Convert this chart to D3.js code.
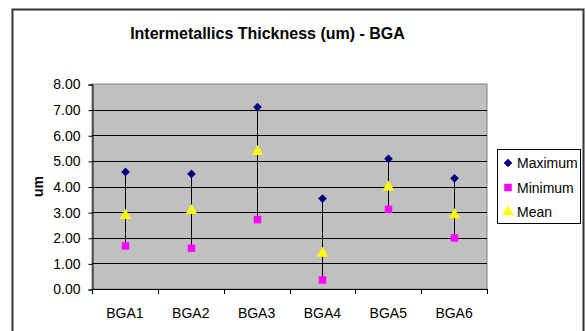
<!DOCTYPE html>
<html>
<head>
<meta charset="utf-8">
<script src="https://cdn.jsdelivr.net/npm/d3@7"></script>
<style>
  body { margin: 0; background: #fff; }
  text { font-family: "Liberation Sans", Arial, sans-serif; fill: #000; }
</style>
</head>
<body>
<div id="chart"></div>
<script>
// Size constants
var totWidth = 586,
    totHeight = 331;
var plot = {left: 92, top: 84, right: 487, bottom: 289};

// Data
var categories = ["BGA1", "BGA2", "BGA3", "BGA4", "BGA5", "BGA6"];
var maximum = [4.57, 4.49, 7.10, 3.53, 5.08, 4.32];
var minimum = [1.68, 1.59, 2.71, 0.35, 3.11, 1.99];
var mean    = [2.86, 3.06, 5.36, 1.39, 3.97, 2.89];
var yTicks  = [0, 1, 2, 3, 4, 5, 6, 7, 8];
var seriesNames = ["Maximum", "Minimum", "Mean"];

var svg = d3.select("#chart")
  .append("svg")
    .attr("width", totWidth)
    .attr("height", totHeight);

// chart border
svg.append("rect")
  .attr("x", 12.5).attr("y", 9.5)
  .attr("width", 571).attr("height", 340)
  .attr("fill", "#fff")
  .attr("stroke", "#333").attr("stroke-width", 2);

// Title
svg.append("text")
  .attr("x", 267.5).attr("y", 39)
  .attr("text-anchor", "middle")
  .attr("font-size", "16px")
  .attr("font-weight", "bold")
  .text("Intermetallics Thickness (um) - BGA");

// Scales
var x = d3.scaleBand()
  .domain(categories)
  .range([plot.left, plot.right]);
var y = d3.scaleLinear()
  .domain([0, 8])
  .range([plot.bottom, plot.top]);

// plot background
svg.append("rect")
  .attr("x", plot.left).attr("y", plot.top)
  .attr("width", plot.right - plot.left)
  .attr("height", plot.bottom - plot.top)
  .attr("fill", "#c0c0c0")
  .attr("stroke", "#808080").attr("stroke-width", 1);

// gridlines
svg.append("g")
  .selectAll("line")
  .data(yTicks.slice(1, -1))
  .enter()
  .append("line")
    .attr("x1", plot.left).attr("x2", plot.right)
    .attr("y1", function(d) { return Math.round(y(d)) + 0.5; })
    .attr("y2", function(d) { return Math.round(y(d)) + 0.5; })
    .attr("stroke", "#000").attr("stroke-width", 1);

// Y axis
var yAxis = svg.append("g")
  .attr("transform", "translate(" + (plot.left + 0.5) + ",0.5)")
  .call(d3.axisLeft(y)
    .tickValues(yTicks)
    .tickSize(4)
    .tickPadding(8)
    .tickFormat(d3.format(".2f")));
yAxis.selectAll("text").attr("font-size", "14px").attr("font-family", null);
yAxis.selectAll("line, path").attr("stroke", "#000");

// X axis: ticks at category boundaries
var bounds = categories.map(function(c) { return x(c); }).concat([plot.right]);
var xAxis = svg.append("g");
xAxis.append("line")
  .attr("x1", plot.left).attr("x2", plot.right)
  .attr("y1", plot.bottom + 0.5).attr("y2", plot.bottom + 0.5)
  .attr("stroke", "#000");
xAxis.selectAll(".xtick")
  .data(bounds)
  .enter()
  .append("line")
    .attr("class", "xtick")
    .attr("x1", function(d) { return Math.round(d) + 0.5; })
    .attr("x2", function(d) { return Math.round(d) + 0.5; })
    .attr("y1", plot.bottom).attr("y2", plot.bottom + 5)
    .attr("stroke", "#000");
xAxis.selectAll(".xlabel")
  .data(categories)
  .enter()
  .append("text")
    .attr("class", "xlabel")
    .attr("x", function(d) { return x(d) + x.bandwidth() / 2; })
    .attr("y", 318)
    .attr("text-anchor", "middle")
    .attr("font-size", "14px")
    .text(function(d) { return d; });

// Y axis label
svg.append("text")
  .attr("transform", "translate(43," + ((plot.top + plot.bottom) / 2) + ") rotate(-90)")
  .attr("text-anchor", "middle")
  .attr("font-size", "14px")
  .attr("font-weight", "bold")
  .text("um");

// high-low lines
var cx = function(i) { return Math.round(x(categories[i]) + x.bandwidth() / 2) + 0.5; };
svg.append("g")
  .selectAll("line")
  .data(categories)
  .enter()
  .append("line")
    .attr("x1", function(d, i) { return cx(i); })
    .attr("x2", function(d, i) { return cx(i); })
    .attr("y1", function(d, i) { return y(maximum[i]); })
    .attr("y2", function(d, i) { return y(minimum[i]); })
    .attr("stroke", "#000").attr("stroke-width", 1);

// marker shapes
var markers = {
  Maximum: {path: d3.symbol().type(d3.symbolDiamond2).size(48)(), color: "#000080", values: maximum},
  Minimum: {path: d3.symbol().type(d3.symbolSquare).size(56)(), color: "#ff00ff", values: minimum},
  Mean:    {path: d3.symbol().type(d3.symbolTriangle).size(58)(), color: "#ffff00", values: mean}
};

seriesNames.forEach(function(name) {
  var m = markers[name];
  svg.append("g")
    .selectAll("path")
    .data(m.values)
    .enter()
    .append("path")
      .attr("d", m.path)
      .attr("transform", function(d, i) { return "translate(" + cx(i) + "," + y(d) + ")"; })
      .attr("fill", m.color);
});

// Legend
var legend = svg.append("g");
legend.append("rect")
  .attr("x", 497.5).attr("y", 149.5)
  .attr("width", 83).attr("height", 74)
  .attr("fill", "#fff")
  .attr("stroke", "#000").attr("stroke-width", 1);
seriesNames.forEach(function(name, i) {
  var ly = 163 + i * 24.5;
  legend.append("path")
    .attr("d", markers[name].path)
    .attr("transform", "translate(508," + ly + ")")
    .attr("fill", markers[name].color);
  legend.append("text")
    .attr("x", 517).attr("y", ly + 5)
    .attr("font-size", "14px")
    .text(name);
});
</script>
</body>
</html>
